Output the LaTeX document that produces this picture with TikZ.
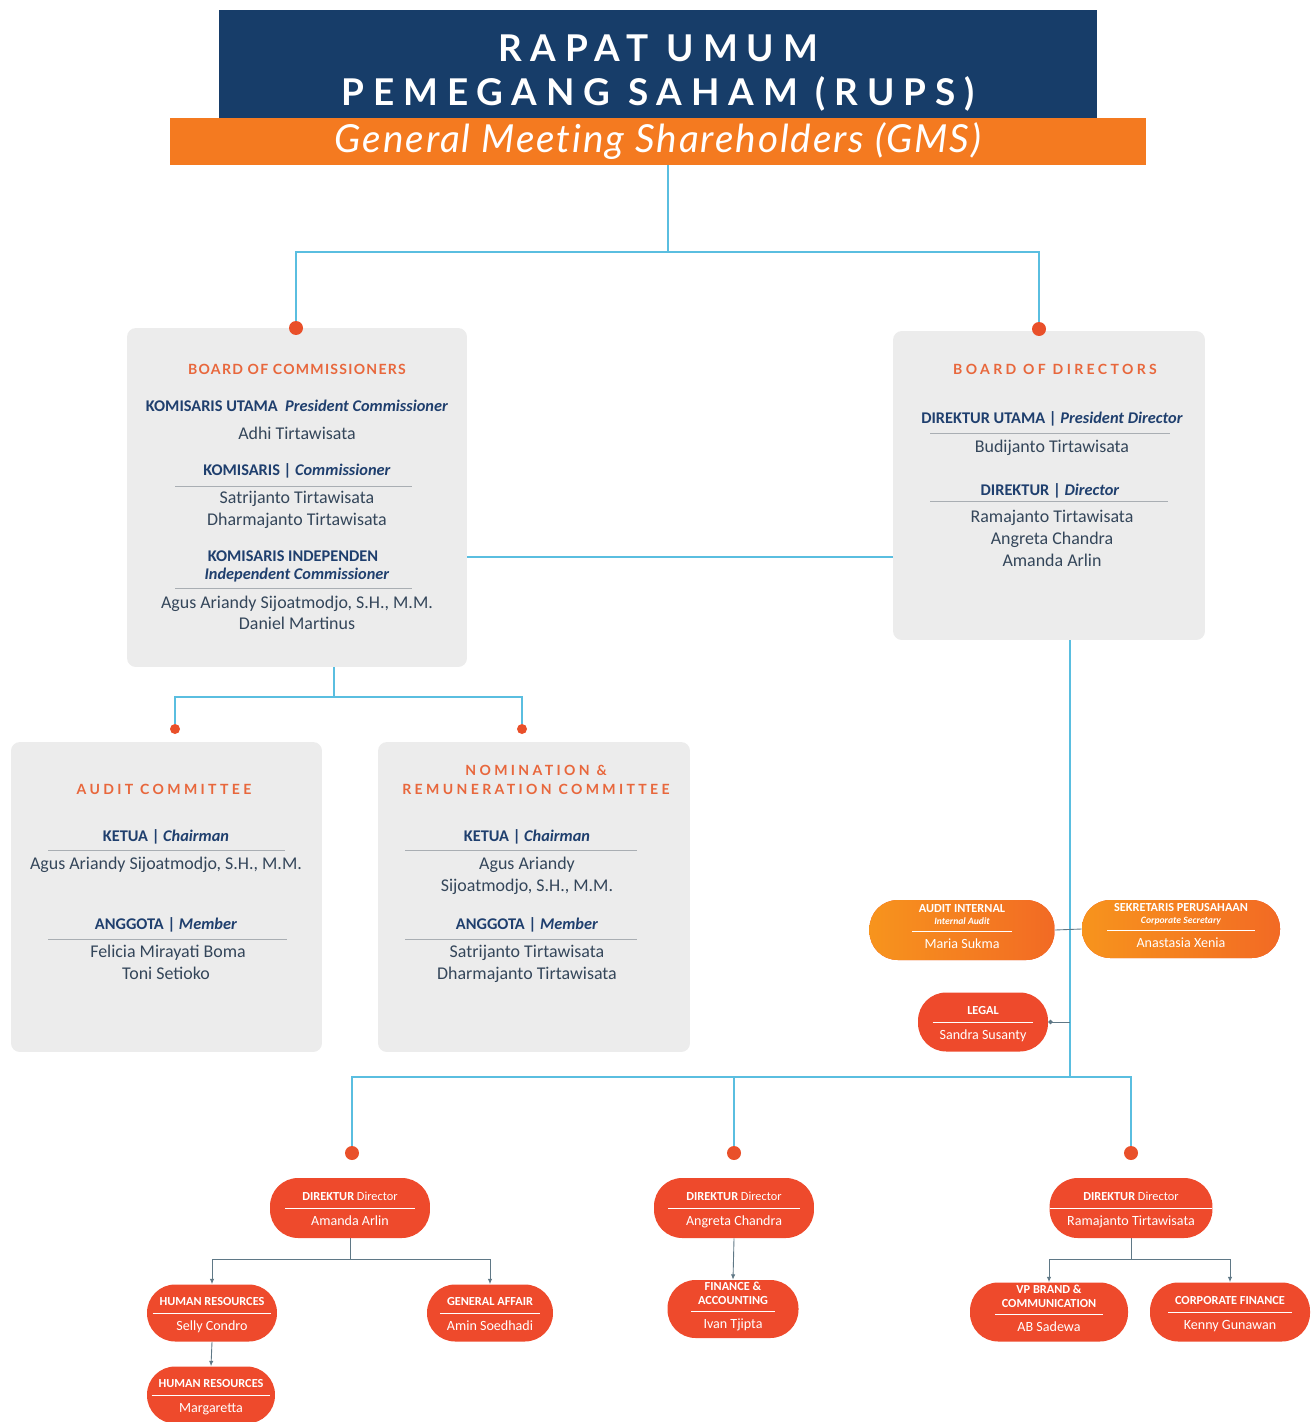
\documentclass[tikz,border=0pt]{standalone}
\usepackage{fontspec}
\setmainfont{Carlito}
\newfontfamily\rupsfont[LetterSpace=24]{Lato}
\newfontfamily\gmsfont[LetterSpace=5, Ligatures=NoCommon]{Lato}
\newfontfamily\capsfont[LetterSpace=24]{Lato}
\newfontfamily\capsnarrow[LetterSpace=9]{Lato}
\usetikzlibrary{arrows.meta, positioning}

\definecolor{rupsnavy}{HTML}{173D69}
\definecolor{gmsorange}{HTML}{F47A20}
\definecolor{linkblue}{HTML}{5ABEE0}
\definecolor{dotred}{HTML}{E9502A}
\definecolor{boxgray}{HTML}{ECECEC}
\definecolor{titleorange}{HTML}{E8673C}
\definecolor{rolenavy}{HTML}{1F3F6E}
\definecolor{namegray}{HTML}{34465A}
\definecolor{sepgray}{HTML}{A9AEB3}
\definecolor{pillred}{HTML}{EE4A2C}
\definecolor{pillorangeA}{HTML}{F7941D}
\definecolor{pillorangeB}{HTML}{F26A24}
\definecolor{subgray}{HTML}{5F7886}

\newcommand{\pillfont}{\fontsize{7}{8}\selectfont\renewcommand{\arraystretch}{1.7}\setlength{\tabcolsep}{4pt}}
\newcommand{\pname}[1]{{\fontsize{8}{9}\selectfont #1}}

\begin{document}
\begin{tikzpicture}[x=0.02cm, y=-0.02cm,
  board/.style={rectangle, rounded corners=5pt, fill=boxgray},
  boxtitle/.style={anchor=base, text=titleorange, font=\capsfont\fontsize{8}{9}\selectfont\bfseries},
  role/.style={anchor=base, text=rolenavy, font=\fontsize{9.3}{11}\selectfont\bfseries},
  person/.style={anchor=base, text=namegray, font=\fontsize{10.2}{12}\selectfont},
  sep/.style={draw=sepgray, line width=0.5pt},
  link/.style={draw=linkblue, line width=1.1pt},
  subline/.style={draw=subgray, line width=0.5pt},
  sub/.style={subline, -{Latex[length=3pt, width=2.5pt]}},
  dot/.style={circle, fill=dotred, inner sep=0pt, minimum size=0.28cm},
  smalldot/.style={dot, minimum size=0.2cm},
  pill/.style={rectangle, rounded corners=16pt, fill=pillred, text=white, inner sep=0pt,
               minimum width=3.2cm, minimum height=1.2cm, font=\pillfont},
  dirpill/.style={pill, font=\pillfont\setlength{\tabcolsep}{10pt}},
  opill/.style={pill, left color=pillorangeA, right color=pillorangeB}
]
\useasboundingbox (0,0) rectangle (1312,1422);

% shareholders
\node[fill=rupsnavy, minimum width=17.56cm, minimum height=2.16cm] (rups) at (658,64) {};
\node[text=white, align=center, font=\rupsfont\fontsize{21}{25}\selectfont\bfseries]
      (rupstitle) at (658,73) {RAPAT UMUM\\PEMEGANG SAHAM (RUPS)};
\node[fill=gmsorange, minimum width=19.52cm, minimum height=0.94cm, inner ysep=0pt, text=white,
      font=\gmsfont\fontsize{22}{24}\selectfont\itshape] (gms) at (658,141.5)
      {General Meeting Shareholders (GMS)};

% boards
\node[board, minimum width=6.8cm, minimum height=6.78cm] (boc) at (297,497.5) {};
\node[board, minimum width=6.24cm, minimum height=6.18cm] (bod) at (1049,485.5) {};
\node[board, minimum width=6.22cm, minimum height=6.2cm] (ac) at (166.5,897) {};
\node[board, minimum width=6.24cm, minimum height=6.2cm] (nrc) at (534,897) {};

% board of commissioners
\node[boxtitle, font=\capsnarrow\fontsize{8}{9}\selectfont\bfseries] (boct) at (297,374) {BOARD OF COMMISSIONERS};
\node[role] (bocr1) at (297,411) {KOMISARIS UTAMA\ \ \textit{President Commissioner}};
\node[person] (bocn1) at (297,439) {Adhi Tirtawisata};
\node[role] (bocr2) at (297,475) {KOMISARIS | \textit{Commissioner}};
\draw[sep] (175,486) -- (412,486);
\node[person] (bocn2) at (297,503) {Satrijanto Tirtawisata};
\node[person] (bocn3) at (297,525) {Dharmajanto Tirtawisata};
\node[role] (bocr3) at (293,561) {KOMISARIS INDEPENDEN};
\node[role] (bocr4) at (297,579) {\textit{Independent Commissioner}};
\draw[sep] (175,588) -- (412,588);
\node[person] (bocn4) at (297,608) {Agus Ariandy Sijoatmodjo, S.H., M.M.};
\node[person] (bocn5) at (297,629) {Daniel Martinus};

% board of directors
\node[boxtitle] (bodt) at (1055,374) {BOARD OF DIRECTORS};
\node[role] (bodr1) at (1052,423) {DIREKTUR UTAMA | \textit{President Director}};
\draw[sep] (930,433) -- (1170,433);
\node[person] (bodn1) at (1052,452) {Budijanto Tirtawisata};
\node[role] (bodr2) at (1050,495) {DIREKTUR | \textit{Director}};
\draw[sep] (930,501) -- (1168,501);
\node[person] (bodn2) at (1052,522) {Ramajanto Tirtawisata};
\node[person] (bodn3) at (1052,544) {Angreta Chandra};
\node[person] (bodn4) at (1052,566) {Amanda Arlin};

% audit committee
\node[boxtitle] (act) at (164,794) {AUDIT COMMITTEE};
\node[role] (acr1) at (166,841) {KETUA | \textit{Chairman}};
\draw[sep] (48,850) -- (285,850);
\node[person] (acn1) at (166,869) {Agus Ariandy Sijoatmodjo, S.H., M.M.};
\node[role] (acr2) at (166,929) {ANGGOTA | \textit{Member}};
\draw[sep] (48,939) -- (287,939);
\node[person] (acn2) at (168,957) {Felicia Mirayati Boma};
\node[person] (acn3) at (166,979) {Toni Setioko};

% nomination & remuneration committee
\node[boxtitle] (nrct1) at (536,775) {NOMINATION \&};
\node[boxtitle] (nrct2) at (536,794) {REMUNERATION COMMITTEE};
\node[role] (nrcr1) at (527,841) {KETUA | \textit{Chairman}};
\draw[sep] (405,850) -- (637,850);
\node[person] (nrcn1) at (527,869) {Agus Ariandy};
\node[person] (nrcn2) at (527,891) {Sijoatmodjo, S.H., M.M.};
\node[role] (nrcr2) at (527,929) {ANGGOTA | \textit{Member}};
\draw[sep] (405,939) -- (637,939);
\node[person] (nrcn3) at (527,957) {Satrijanto Tirtawisata};
\node[person] (nrcn4) at (527,979) {Dharmajanto Tirtawisata};

% support units
\node[opill, minimum width=3.7cm] (ai) at (962,930) {\begin{tabular}{c}\shortstack{\textbf{AUDIT INTERNAL}\\{\fontsize{5.5}{6}\selectfont\bfseries\itshape Internal Audit}}\\\hline\pname{Maria Sukma}\end{tabular}};
\node[opill, minimum width=3.96cm, minimum height=1.16cm] (sek) at (1181,929) {\begin{tabular}{c}\shortstack{\textbf{SEKRETARIS PERUSAHAAN}\\{\fontsize{5.5}{6}\selectfont\bfseries\itshape Corporate Secretary}}\\\hline\pname{Anastasia Xenia}\end{tabular}};
\node[pill, minimum width=2.6cm, minimum height=1.18cm] (legal) at (983,1022) {\begin{tabular}{c}\textbf{LEGAL}\\\hline\pname{Sandra Susanty}\end{tabular}};

% directors
\node[dirpill] (d1) at (350,1208) {\begin{tabular}{c}\textbf{DIREKTUR} Director\\\hline\pname{Amanda Arlin}\end{tabular}};
\node[dirpill] (d2) at (734,1208) {\begin{tabular}{c}\textbf{DIREKTUR} Director\\\hline\pname{Angreta Chandra}\end{tabular}};
\node[dirpill] (d3) at (1131,1208) {\begin{tabular}{c}\textbf{DIREKTUR} Director\\\hline\pname{Ramajanto Tirtawisata}\end{tabular}};

% departments
\node[pill, minimum width=2.6cm, minimum height=1.14cm] (hr1) at (212,1313) {\begin{tabular}{c}\textbf{HUMAN RESOURCES}\\\hline\pname{Selly Condro}\end{tabular}};
\node[pill, minimum width=2.52cm, minimum height=1.14cm] (ga) at (490,1313) {\begin{tabular}{c}\textbf{GENERAL AFFAIR}\\\hline\pname{Amin Soedhadi}\end{tabular}};
\node[pill, minimum width=2.56cm, minimum height=1.14cm] (hr2) at (211,1395) {\begin{tabular}{c}\textbf{HUMAN RESOURCES}\\\hline\pname{Margaretta}\end{tabular}};
\node[pill, minimum width=2.62cm, minimum height=1.16cm] (fin) at (733,1309) {\begin{tabular}{c}\shortstack{\textbf{FINANCE \&}\\\textbf{ACCOUNTING}}\\\hline\pname{Ivan Tjipta}\end{tabular}};
\node[pill, minimum width=3.16cm, minimum height=1.18cm] (vp) at (1049,1312) {\begin{tabular}{c}\shortstack{\textbf{VP BRAND \&}\\\textbf{COMMUNICATION}}\\\hline\pname{AB Sadewa}\end{tabular}};
\node[pill, minimum width=3.2cm, minimum height=1.18cm] (cf) at (1230,1312) {\begin{tabular}{c}\textbf{CORPORATE FINANCE}\\\hline\pname{Kenny Gunawan}\end{tabular}};

% joints
\coordinate (topjoin) at (668,252);
\coordinate (boclink) at (467,557);
\coordinate (comjoin) at (334,697);
\coordinate (dirjoin) at (1070,1077);

% connectors
\draw[link] (topjoin |- gms.south) -- (topjoin);
\draw[link] (boclink) -- (boclink -| bod.west);
\draw[link] (comjoin |- boc.south) -- (comjoin);
\draw[link] (dirjoin |- bod.south) -- (dirjoin);
\draw[subline] (ai.east) -- (sek.west);
\draw[subline, {Circle[length=2.5pt]}-] (legal.east) -- (legal.east -| dirjoin);

% dots
\node[dot] (bocdot) at (296,328) {};
\node[dot] (boddot) at (1039,329) {};
\node[smalldot] (acdot) at (175,729) {};
\node[smalldot] (nrcdot) at (522,729) {};
\node[dot] (d1dot) at (352,1153) {};
\node[dot] (d2dot) at (734,1153) {};
\node[dot] (d3dot) at (1131,1153) {};

\draw[link] (bocdot.north) |- (topjoin) -| (boddot.north);
\draw[link] (acdot.north) |- (comjoin) -| (nrcdot.north);
\draw[link] (d1dot.north) |- (dirjoin);
\draw[link] (d2dot.north) -- (d2dot |- dirjoin);
\draw[link] (d3dot.north) |- (dirjoin);

\draw[sub] (d1.south) -- ++(0,21) -| (hr1.north);
\draw[sub] (d1.south) -- ++(0,21) -| (ga.north);
\draw[sub] (hr1.south) -- (hr2.north);
\draw[sub] (d2.south) -- (fin.north);
\draw[sub] (d3.south) -- ++(0,21) -| (vp.north);
\draw[sub] (d3.south) -- ++(0,21) -| (cf.north);
\end{tikzpicture}
\end{document}
